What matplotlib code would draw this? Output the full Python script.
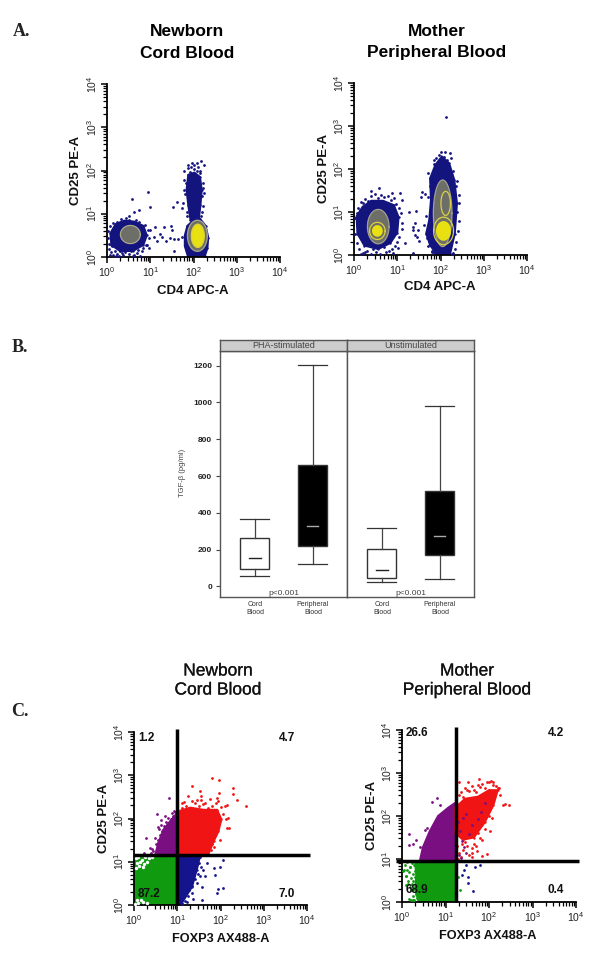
import numpy as np
import matplotlib
matplotlib.use("Agg")
import matplotlib.pyplot as plt
import matplotlib.patheffects as pe
from matplotlib.ticker import LogLocator, NullFormatter

plt.rcParams['font.family'] = ['Liberation Sans', 'DejaVu Sans']
plt.rcParams['mathtext.fontset'] = 'custom'
plt.rcParams['mathtext.rm'] = 'Liberation Sans'
plt.rcParams['mathtext.default'] = 'rm'

W, H = 600, 956
NAVY = "#14147f"
GREEN = "#0f9a0f"
PURPLE = "#7a0f82"
RED = "#f01414"
BLUE = "#14148c"

# all flow values are in log10 decades of fluorescence
# panel A, cord blood
a1_blob1_x = [0.08, 0.20, 0.40, 0.62, 0.84, 0.92, 0.84, 0.60, 0.30, 0.10]
a1_blob1_y = [0.55, 0.76, 0.84, 0.82, 0.72, 0.50, 0.28, 0.14, 0.14, 0.28]
a1_blob2_x = [1.80, 1.86, 2.00, 2.15, 2.28, 2.34, 2.32, 2.26, 1.87, 1.80]
a1_blob2_y = [0.50, 0.72, 0.85, 0.88, 0.72, 0.45, 0.20, 0.02, 0.02, 0.25]
a1_blob3_x = [1.88, 2.02, 2.15, 2.19, 2.16, 2.12, 1.93, 1.88, 1.84]
a1_blob3_y = [1.90, 1.95, 1.85, 1.55, 1.20, 0.86, 0.86, 1.20, 1.55]
a1_sparse_x = [0.58, 0.95, 0.73, 0.63, 1.00, 0.52, 1.12, 1.31, 1.48, 1.50, 1.23, 1.09, 1.15,
               1.28, 1.36, 1.46, 1.54, 1.65, 1.73, 1.52, 1.62, 1.73, 1.54, 1.00, 0.98, 0.92,
               1.87, 2.08, 2.18, 2.25, 1.78, 1.79, 2.23, 1.77, 2.25, 1.75, 2.22, 1.96,
               1.88, 1.95, 2.02, 2.10, 2.16, 1.92, 2.00, 2.08, 2.14,
               1.82, 1.80, 2.20, 2.22, 1.85, 2.20, 1.86, 2.18]
a1_sparse_y = [1.35, 1.51, 1.08, 1.03, 1.16, 0.94, 0.69, 0.69, 0.71, 0.62, 0.53, 0.46, 0.38,
               0.46, 0.38, 0.44, 0.42, 0.42, 0.46, 1.15, 1.28, 1.13, 0.13, 0.63, 0.21, 0.28,
               2.13, 2.17, 2.23, 2.12, 1.98, 1.78, 1.71, 1.55, 1.48, 1.25, 1.17, 2.17,
               2.05, 2.08, 2.03, 2.07, 2.00, 1.97, 2.12, 1.98, 1.95,
               1.70, 1.45, 1.40, 1.60, 1.05, 1.05, 0.95, 0.95]
a1_edge_x = [0.03, 0.02, 0.05, 0.08, 0.04, 0.10, 0.14, 0.18, 0.24, 0.30, 0.36, 0.42, 0.50,
             0.56, 0.62, 0.70, 0.76, 0.80, 0.84, 0.90, 0.15, 0.22, 0.32, 0.45, 0.52, 0.68,
             0.74, 0.88, 0.95, 0.06, 0.12, 0.28, 0.38, 0.60, 0.72, 0.97, 0.20, 0.35]
a1_edge_y = [0.60, 0.45, 0.30, 0.72, 0.18, 0.12, 0.05, 0.15, 0.08, 0.13, 0.04, 0.11, 0.07,
             0.14, 0.05, 0.10, 0.03, 0.13, 0.20, 0.27, 0.78, 0.82, 0.88, 0.90, 0.86, 0.85,
             0.82, 0.75, 0.62, 0.05, 0.25, 0.03, 0.17, 0.02, 0.17, 0.45, 0.02, 0.10]
# centre x, centre y, width, height
a1_grey = [(0.54, 0.52, 0.46, 0.42), (2.09, 0.49, 0.46, 0.72)]
a1_yellow = [(2.10, 0.49, 0.30, 0.54)]

# panel A, mother
a2_blob1_x = [0.06, 0.20, 0.40, 0.67, 0.92, 1.03, 1.00, 0.84, 0.56, 0.24, 0.08]
a2_blob1_y = [0.90, 1.12, 1.26, 1.26, 1.16, 0.88, 0.52, 0.28, 0.14, 0.22, 0.50]
a2_blob2_x = [2.03, 1.88, 1.76, 1.78, 1.74, 1.67, 1.76, 1.91, 2.22, 2.33, 2.38, 2.32, 2.20]
a2_blob2_y = [2.29, 2.09, 1.78, 1.28, 0.81, 0.50, 0.23, 0.02, 0.02, 0.50, 1.20, 1.74, 2.13]
a2_sparse_x = [2.12, 2.02, 2.22, 2.07, 1.84, 1.57, 1.64, 1.54, 1.28, 1.43, 1.41, 1.36, 1.37,
               1.47, 1.45, 1.51, 1.41, 1.37, 1.18, 2.42, 2.38, 1.06, 0.87, 0.57, 0.40, 0.17, 1.10]
a2_sparse_y = [3.20, 2.40, 2.38, 2.29, 2.12, 1.47, 1.43, 1.36, 1.00, 1.03, 0.75, 0.66, 0.57,
               0.58, 0.41, 0.33, 0.47, 0.04, 0.27, 1.22, 1.71, 1.45, 1.45, 1.55, 1.50, 1.24, 1.28]
a2_edge_x = [0.03, 0.06, 0.10, 0.15, 0.20, 0.26, 0.32, 0.40, 0.48, 0.55, 0.62, 0.70, 0.78,
             0.85, 0.92, 0.98, 1.04, 1.08, 1.12, 1.10, 1.05, 1.00, 0.95, 0.88, 0.80, 0.70,
             0.60, 0.50, 0.40, 0.30, 0.20, 0.12, 0.06, 0.02, 0.16, 0.90, 0.45, 0.75, 0.25, 1.02,
             1.72, 1.75, 1.70, 1.66, 1.62, 1.68, 1.72, 1.80, 1.84, 1.90, 1.96, 2.02, 2.10,
             2.16, 2.24, 2.30, 2.36, 2.42, 2.38, 2.42, 2.40, 2.36, 2.34, 2.30, 2.26, 1.80, 1.85]
a2_edge_y = [0.85, 0.98, 1.10, 1.05, 1.20, 1.30, 1.25, 1.38, 1.42, 1.32, 1.40, 1.35, 1.38,
             1.28, 1.32, 1.18, 1.10, 0.98, 0.75, 0.60, 0.42, 0.30, 0.22, 0.15, 0.10, 0.18,
             0.03, 0.08, 0.02, 0.10, 0.04, 0.15, 0.28, 0.50, 0.02, 0.05, 0.14, 0.06, 0.07, 0.17,
             1.90, 1.60, 1.35, 0.90, 0.70, 0.40, 0.20, 0.08, 2.20, 2.25, 2.32, 2.22, 2.40,
             2.20, 2.25, 1.95, 1.60, 1.40, 1.00, 0.80, 0.55, 0.30, 0.15, 0.05, 0.02, 0.10, 0.05]
a2_grey = [(0.56, 0.66, 0.50, 0.80), (2.05, 0.97, 0.43, 1.55)]
a2_yellow = [(0.54, 0.56, 0.25, 0.27), (2.07, 0.56, 0.35, 0.46)]
a2_outline = [(2.12, 1.20, 0.22, 0.56), (0.54, 0.56, 0.36, 0.40), (2.07, 0.56, 0.46, 0.64)]

# panel B
box_names = ["Cord\nBlood", "Peripheral\nBlood"]
pha_low = [55, 120]
pha_q1 = [93, 222]
pha_med = [152, 328]
pha_q3 = [263, 662]
pha_high = [365, 1205]
uns_low = [25, 38]
uns_q1 = [43, 168]
uns_med = [87, 275]
uns_q3 = [205, 520]
uns_high = [315, 980]
tgf_ticks = [0, 200, 400, 600, 800, 1000, 1200]

# panel C, cord blood
c1_green_x = [0.00, 0.99, 0.99, 0.00]
c1_green_y = [0.00, 0.00, 1.15, 1.15]
c1_gap_x = [0.04, 0.10, 0.18, 0.26, 0.34, 0.42, 0.07, 0.14, 0.22, 0.30, 0.05, 0.12, 0.20,
            0.03, 0.10, 0.20, 0.30, 0.07, 0.16]
c1_gap_y = [1.08, 1.12, 1.05, 1.10, 1.08, 1.12, 0.96, 1.00, 0.95, 1.00, 0.86, 0.90, 0.88,
            0.03, 0.05, 0.06, 0.04, 0.12, 0.12]
c1_blue_x = [0.99, 1.53, 1.45, 1.34, 1.10, 0.99]
c1_blue_y = [1.15, 1.15, 0.81, 0.42, 0.04, 0.02]
c1_blue_pts_x = [2.05, 1.99, 1.68, 1.84, 1.64, 1.88, 2.05, 1.95, 1.92, 1.57, 1.57, 1.37, 1.22, 1.45, 1.53,
                 1.40, 1.45, 1.50, 1.55, 1.60, 1.38, 1.30, 1.42, 1.48, 1.35, 1.28, 1.20, 1.15,
                 1.25, 1.33, 1.18, 1.10, 1.05, 1.40, 1.52]
c1_blue_pts_y = [1.04, 0.89, 0.97, 0.85, 0.66, 0.69, 0.40, 0.36, 0.27, 0.41, 0.12, 0.15, 0.08, 0.50, 0.66,
                 1.08, 0.95, 0.98, 0.88, 0.80, 0.70, 0.55, 0.60, 0.72, 0.45, 0.35, 0.30, 0.18,
                 0.20, 0.28, 0.10, 0.03, 0.08, 0.85, 1.10]
c1_purple_x = [0.99, 0.49, 0.56, 0.68, 0.83, 0.99]
c1_purple_y = [1.15, 1.15, 1.43, 1.74, 1.93, 2.12]
c1_purple_pts_x = [0.80, 0.53, 0.63, 0.28, 0.37, 0.23, 0.87, 0.72, 0.56,
                   0.45, 0.50, 0.55, 0.60, 0.65, 0.70, 0.75, 0.80, 0.85, 0.90, 0.95,
                   0.40, 0.42, 0.48, 0.58, 0.62, 0.72, 0.78, 0.88, 0.93]
c1_purple_pts_y = [2.47, 2.11, 1.97, 1.54, 1.31, 1.21, 2.12, 2.05, 1.81,
                   1.25, 1.40, 1.50, 1.62, 1.70, 1.82, 1.92, 1.85, 2.00, 2.05, 2.15,
                   1.20, 1.30, 1.55, 1.75, 1.85, 1.72, 2.02, 1.95, 2.18]
c1_red_x = [0.99, 1.02, 1.07, 1.30, 1.61, 1.92, 2.02, 1.95, 1.84, 1.72]
c1_red_y = [1.18, 1.95, 2.18, 2.25, 2.20, 2.20, 1.98, 1.70, 1.47, 1.18]
c1_red_pts_x = [1.80, 1.96, 2.30, 1.35, 1.53, 1.26, 1.55, 1.96, 1.93, 2.30, 2.38, 2.59, 2.16,
                2.17, 2.15, 2.19, 1.99, 1.84, 1.76, 1.45, 1.11,
                1.10, 1.20, 1.30, 1.40, 1.50, 1.60, 1.70, 1.80, 1.90, 2.00, 2.10,
                1.15, 1.25, 1.35, 1.45, 1.55, 1.65, 1.75, 1.85, 1.95, 2.05, 2.12,
                1.90, 1.88, 1.80, 1.78]
c1_red_pts_y = [2.93, 2.88, 2.70, 2.74, 2.63, 2.53, 2.51, 2.60, 2.47, 2.56, 2.43, 2.29, 2.32,
                2.01, 1.79, 1.79, 1.51, 1.35, 2.46, 2.43, 2.36,
                2.25, 2.30, 2.22, 2.35, 2.28, 2.33, 2.24, 2.30, 2.36, 2.26, 2.30,
                2.38, 2.18, 2.40, 2.20, 2.42, 2.36, 2.18, 2.20, 2.40, 2.10, 2.00,
                1.75, 1.62, 1.40, 1.28]
c1_gate = (0.99, 1.15)
c1_labels = ["1.2", "4.7", "87.2", "7.0"]

# panel C, mother
c2_green_x = [0.38, 1.23, 1.23, 0.30, 0.33, 0.30]
c2_green_y = [0.02, 0.02, 0.95, 0.95, 0.60, 0.30]
c2_green_pts_x = [1.33, 1.29, 0.02, 0.14, 0.25, 0.18, 0.29, 0.33, 0.10, 0.22,
                  0.05, 0.08, 0.10, 0.12, 0.15, 0.18, 0.20, 0.22, 0.25, 0.28, 0.30,
                  0.10, 0.14, 0.18, 0.22, 0.26, 0.30, 0.32, 0.34, 0.20, 0.25, 0.16, 0.28, 0.12, 0.24]
c2_green_pts_y = [0.27, 0.58, 0.73, 0.42, 0.04, 0.81, 0.58, 0.27, 0.60, 0.30,
                  0.75, 0.85, 0.60, 0.92, 0.70, 0.82, 0.55, 0.90, 0.65, 0.85, 0.72,
                  0.40, 0.50, 0.35, 0.42, 0.50, 0.30, 0.18, 0.10, 0.05, 0.15, 0.08, 0.04, 0.75, 0.28]
c2_purple_x = [1.23, 0.41, 0.48, 0.64, 0.83, 1.06, 1.23]
c2_purple_y = [0.95, 0.95, 1.27, 1.65, 2.00, 2.19, 2.31]
c2_purple_pts_x = [0.81, 0.68, 0.88, 0.16, 0.16, 0.25, 0.33, 0.52, 0.41, 0.58,
                   1.30, 1.37, 1.42, 1.33, 1.48, 1.28, 1.55, 1.40, 1.35, 1.60, 1.75, 1.46, 1.90, 1.82]
c2_purple_pts_y = [2.41, 2.33, 2.25, 1.58, 1.33, 1.36, 1.44, 1.67, 1.27, 1.72,
                   1.10, 1.42, 1.27, 1.66, 1.15, 1.85, 1.58, 1.95, 1.02, 1.80, 1.92, 2.05, 2.30, 2.10]
c2_red_x = [1.23, 1.45, 1.75, 2.00, 2.20, 2.10, 1.90, 1.65, 1.40, 1.23]
c2_red_y = [2.20, 2.40, 2.45, 2.60, 2.60, 2.25, 1.85, 1.50, 1.45, 1.60]
c2_red_pts_x = [1.78, 1.52, 1.32, 2.10, 2.33, 2.37, 2.47, 1.95, 1.83, 1.72, 1.60, 2.02, 2.06, 2.22,
                1.25, 1.30, 1.35, 1.40, 1.45, 1.50, 1.55, 1.60, 1.65, 1.70, 1.75, 1.80, 1.85,
                1.90, 1.95, 2.00, 2.05, 2.10, 2.15, 2.20, 2.25, 2.00, 1.90, 1.80, 1.70, 1.60,
                1.50, 1.40, 1.30, 1.26, 1.35, 1.45, 1.55, 1.65, 1.75, 1.85, 1.28, 1.38, 1.50, 1.62]
c2_red_pts_y = [2.87, 2.79, 2.79, 2.79, 2.25, 2.28, 2.25, 1.12, 1.08, 1.19, 1.04, 1.65, 1.96, 2.65,
                2.40, 2.50, 2.55, 2.45, 2.65, 2.60, 2.58, 2.70, 2.60, 2.55, 2.72, 2.68, 2.75,
                2.65, 2.80, 2.78, 2.82, 2.72, 2.70, 2.65, 2.50, 2.00, 1.70, 1.50, 1.30, 1.25,
                1.30, 1.20, 1.15, 1.30, 1.05, 1.40, 1.10, 1.35, 1.60, 1.45, 1.00, 1.35, 1.55, 1.15]
c2_blue_pts_x = [1.79, 1.68, 1.48, 1.42, 1.37, 1.52, 1.64, 1.52]
c2_blue_pts_y = [0.85, 0.82, 0.85, 0.75, 0.62, 0.58, 0.25, 0.45]
c2_gate = (1.23, 0.95)
c2_labels = ["26.6", "4.2", "68.9", "0.4"]

decade_ticks = [1, 10, 100, 1000, 10000]
decade_labels = [r"$10^{%d}$" % i for i in range(5)]


def px_axes(fig, x0, x1, y0, y1):
    # x0..x1 left to right, y0..y1 top to bottom, in image pixels
    return fig.add_axes([x0 / W, 1 - y1 / H, (x1 - x0) / W, (y1 - y0) / H])


def px_text(fig, x, y, s, **kw):
    kw.setdefault("ha", "center")
    kw.setdefault("va", "center")
    return fig.text(x / W, 1 - y / H, s, **kw)


def flow_axes(fig, box):
    ax = px_axes(fig, *box)
    ax.set_xscale("log")
    ax.set_yscale("log")
    ax.set_xlim(1, 1e4)
    ax.set_ylim(1, 1e4)
    ax.patch.set_alpha(0)
    for side in ["top", "right"]:
        ax.spines[side].set_visible(False)
    for side in ["left", "bottom"]:
        ax.spines[side].set_linewidth(1.3)
    ax.set_xticks(decade_ticks)
    ax.set_yticks(decade_ticks)
    ax.set_xticklabels(decade_labels, fontsize=7.5, color="#222222")
    ax.set_yticklabels(decade_labels, fontsize=7.5, color="#222222",
                       rotation=90, va="center")
    ax.tick_params(which="major", length=4.5, width=1.1, pad=1.5)
    ax.tick_params(which="minor", length=3, width=0.9)
    ax.xaxis.set_minor_locator(LogLocator(10, subs=range(2, 10), numticks=10))
    ax.yaxis.set_minor_locator(LogLocator(10, subs=range(2, 10), numticks=10))
    ax.xaxis.set_minor_formatter(NullFormatter())
    ax.yaxis.set_minor_formatter(NullFormatter())
    return ax


def cloud(ax, xs, ys, color, z=2):
    x = np.power(10.0, np.array(xs))
    y = np.power(10.0, np.array(ys))
    ax.fill(x, y, color=color, lw=1.5, zorder=z)
    ax.scatter(x, y, s=3, color=color, lw=0, zorder=z)


def dots(ax, xs, ys, color, z=3, size=4):
    ax.scatter(np.power(10.0, np.array(xs)), np.power(10.0, np.array(ys)),
               s=size, color=color, lw=0, zorder=z, clip_on=False)


def contour(ax, spec, fill=None, edge=None, z=4):
    t = np.linspace(0, 2 * np.pi, 50)
    for cx, cy, w, h in spec:
        x = np.power(10.0, cx + w / 2 * np.cos(t))
        y = np.power(10.0, cy + h / 2 * np.sin(t))
        if fill:
            ax.fill(x, y, color=fill, lw=0, zorder=z)
        if edge:
            ax.plot(x, y, color=edge, lw=0.9, zorder=z + 1)


def gate(ax, pos, left, labels, spots):
    gx, gy = pos
    ax.plot([10 ** gx, 10 ** gx], [1, 10 ** 4.08], color="black", lw=2.5,
            clip_on=False, zorder=6, solid_capstyle="butt")
    ax.plot([10 ** left, 10 ** 4.07], [10 ** gy, 10 ** gy], color="black", lw=2.5,
            clip_on=False, zorder=6, solid_capstyle="butt")
    for s, (x, y) in zip(labels, spots):
        px_text(ax.figure, x, y, s, fontsize=8.5, weight="bold", color="#111111", zorder=7)


def box_panel(ax, low, q1, med, q3, high, p_y=-38):
    stats = []
    for i in range(2):
        stats.append({"whislo": low[i], "q1": q1[i], "med": med[i], "q3": q3[i], "whishi": high[i]})
    pos = [0.275, 0.73]
    art = ax.bxp(stats, positions=pos, widths=0.228, showfliers=False, patch_artist=True,
                 boxprops={"edgecolor": "#333333", "linewidth": 1},
                 whiskerprops={"color": "#444444", "linewidth": 0.9},
                 capprops={"color": "#333333", "linewidth": 0.9},
                 medianprops={"visible": False}, capwidths=0.228, manage_ticks=False)
    art["boxes"][0].set_facecolor("white")
    art["boxes"][1].set_facecolor("black")
    ax.plot([pos[0] - 0.045, pos[0] + 0.045], [med[0], med[0]], color="#222222", lw=1)
    ax.plot([pos[1] - 0.045, pos[1] + 0.045], [med[1], med[1]], color="#aaaaaa", lw=1)
    ax.set_xlim(0, 1)
    ax.set_ylim(-58, 1280)
    ax.set_xticks([])
    ax.text(0.5, p_y, "p<0.001", ha="center", va="center", fontsize=6, color="#444444")
    for s in ax.spines.values():
        s.set_color("#555555")
        s.set_linewidth(1)


fig = plt.figure(figsize=(W / 100, H / 100), dpi=100, facecolor="white")

# letters and titles
serif = ["Liberation Serif", "DejaVu Serif"]
px_text(fig, 22, 32, "A.", family=serif, weight="bold", fontsize=13, color="#222222")
px_text(fig, 20, 348, "B.", family=serif, weight="bold", fontsize=13, color="#222222")
px_text(fig, 20, 711, "C.", family=serif, weight="bold", fontsize=13, color="#222222")
px_text(fig, 187, 32, "Newborn", weight="bold", fontsize=12.5)
px_text(fig, 187, 53, "Cord Blood", weight="bold", fontsize=12.5)
px_text(fig, 437, 32, "Mother", weight="bold", fontsize=12.5)
px_text(fig, 437, 53, "Peripheral Blood", weight="bold", fontsize=12.5)
heavy = [pe.withStroke(linewidth=0.2, foreground="#333333")]
for x, y, s in [(218, 671, "Newborn"), (218, 690, "Cord Blood"),
                (467, 671, "Mother"), (467, 690, "Peripheral Blood")]:
    px_text(fig, x, y, s, fontsize=12.5, color="#111111", path_effects=heavy)

# A cord blood
ax = flow_axes(fig, (107, 280, 84, 257))
cloud(ax, a1_blob1_x, a1_blob1_y, NAVY)
cloud(ax, a1_blob2_x, a1_blob2_y, NAVY)
cloud(ax, a1_blob3_x, a1_blob3_y, NAVY)
dots(ax, a1_sparse_x, a1_sparse_y, NAVY)
dots(ax, a1_edge_x, a1_edge_y, NAVY)
contour(ax, a1_grey, fill="#6e6e68", edge="#a8a888")
contour(ax, a1_yellow, fill="#e8e010", edge="#d8d040", z=5)
px_text(fig, 193, 291, "CD4 APC-A", weight="bold", fontsize=9.5, color="#111111")
px_text(fig, 76, 170, "CD25 PE-A", weight="bold", fontsize=9.5, rotation=90, color="#111111")

# A mother
ax = flow_axes(fig, (354, 527, 83, 255))
cloud(ax, a2_blob1_x, a2_blob1_y, NAVY)
cloud(ax, a2_blob2_x, a2_blob2_y, NAVY)
dots(ax, a2_sparse_x, a2_sparse_y, NAVY)
dots(ax, a2_edge_x, a2_edge_y, NAVY)
contour(ax, a2_grey, fill="#6e6e68", edge="#a0a090")
contour(ax, a2_outline, edge="#d8d040", z=5)
contour(ax, a2_yellow, fill="#e8e010", z=5)
px_text(fig, 440, 287, "CD4 APC-A", weight="bold", fontsize=9.5, color="#111111")
px_text(fig, 324, 168, "CD25 PE-A", weight="bold", fontsize=9.5, rotation=90, color="#111111")

# B boxes
ax1 = px_axes(fig, 220, 347, 351, 597)
ax2 = px_axes(fig, 347, 474, 351, 597)
box_panel(ax1, pha_low, pha_q1, pha_med, pha_q3, pha_high)
box_panel(ax2, uns_low, uns_q1, uns_med, uns_q3, uns_high)
ax1.set_yticks(tgf_ticks)
ax1.set_yticklabels(tgf_ticks, fontsize=6, weight="bold", color="#222222")
ax1.tick_params(axis="y", length=3, width=0.8, pad=2.5, color="#444444")
ax2.set_yticks([])
for x0, s in [(220, "PHA-stimulated"), (347, "Unstimulated")]:
    st = px_axes(fig, x0, x0 + 127, 340, 351)
    st.set_facecolor("#cccccc")
    st.set_xticks([])
    st.set_yticks([])
    for sp in st.spines.values():
        sp.set_color("#555555")
        sp.set_linewidth(1)
    st.text(0.5, 0.47, s, ha="center", va="center", fontsize=6.5, color="#444444",
            transform=st.transAxes)
px_text(fig, 182, 473, "TGF-β (pg/ml)", rotation=90, fontsize=5.5, color="#444444")
for x, name in zip([255, 313, 382, 440], box_names * 2):
    top, bottom = name.split("\n")
    px_text(fig, x, 604, top, fontsize=5, color="#333333")
    px_text(fig, x, 613, bottom, fontsize=5, color="#333333")

# C cord blood
ax = flow_axes(fig, (134, 307, 732, 905))
cloud(ax, c1_green_x, c1_green_y, GREEN)
dots(ax, c1_gap_x, c1_gap_y, "white", size=6)
cloud(ax, c1_blue_x, c1_blue_y, BLUE)
cloud(ax, c1_purple_x, c1_purple_y, PURPLE)
cloud(ax, c1_red_x, c1_red_y, RED)
dots(ax, c1_blue_pts_x, c1_blue_pts_y, BLUE)
dots(ax, c1_purple_pts_x, c1_purple_pts_y, PURPLE)
dots(ax, c1_red_pts_x, c1_red_pts_y, RED)
gate(ax, c1_gate, 0.0, c1_labels, [(146, 738), (287, 738), (149, 894), (287, 894)])
px_text(fig, 221, 939, "FOXP3 AX488-A", weight="bold", fontsize=9.2, color="#111111")
px_text(fig, 104, 818, "CD25 PE-A", weight="bold", fontsize=9.5, rotation=90, color="#111111")

# C mother
ax = flow_axes(fig, (402, 576, 730, 902))
cloud(ax, c2_green_x, c2_green_y, GREEN)
cloud(ax, c2_purple_x, c2_purple_y, PURPLE)
cloud(ax, c2_red_x, c2_red_y, RED)
dots(ax, c2_green_pts_x, c2_green_pts_y, GREEN)
dots(ax, c2_red_pts_x, c2_red_pts_y, RED)
dots(ax, c2_purple_pts_x, c2_purple_pts_y, PURPLE)
dots(ax, c2_blue_pts_x, c2_blue_pts_y, BLUE)
gate(ax, c2_gate, -0.13, c2_labels, [(417, 733), (556, 733), (417, 890), (556, 890)])
px_text(fig, 488, 936, "FOXP3 AX488-A", weight="bold", fontsize=9.2, color="#111111")
px_text(fig, 372, 815, "CD25 PE-A", weight="bold", fontsize=9.5, rotation=90, color="#111111")

fig.savefig("out.png", dpi=100)
